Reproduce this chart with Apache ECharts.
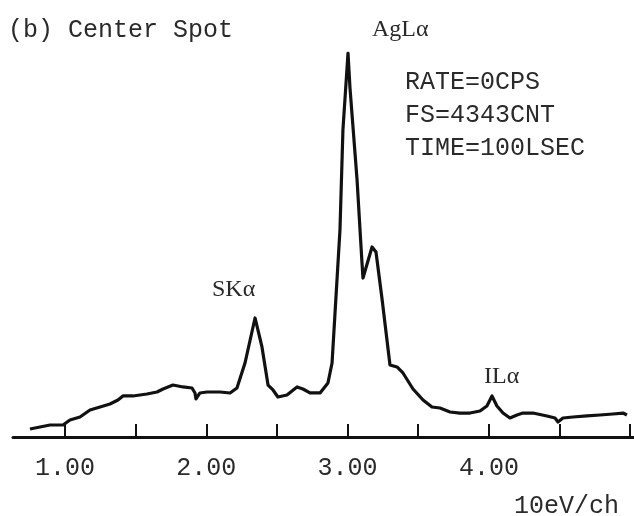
<!DOCTYPE html>
<html>
<head>
<meta charset="utf-8">
<script src="https://cdn.jsdelivr.net/npm/echarts@6/dist/echarts.min.js"></script>
<style>
  html, body { margin: 0; padding: 0; background: #fff; }
  #chart { width: 634px; height: 516px; }
</style>
</head>
<body>
<div id="chart"></div>
<script>
// energy (keV) and counts
const energy = [
    0.752, 0.823, 0.894, 0.986, 1.035, 1.106, 1.177, 1.248, 1.318, 1.375,
    1.410, 1.481, 1.580, 1.651, 1.694, 1.764, 1.835, 1.899, 1.920, 1.927,
    1.955, 2.005, 2.097, 2.168, 2.217, 2.274, 2.345, 2.394, 2.437, 2.472,
    2.507, 2.571, 2.642, 2.684, 2.734, 2.805, 2.861, 2.890, 2.911, 2.925,
    2.946, 2.967, 3.003, 3.017, 3.067, 3.102, 3.109, 3.173, 3.201, 3.243,
    3.300, 3.350, 3.392, 3.463, 3.534, 3.597, 3.654, 3.725, 3.795, 3.866,
    3.937, 3.986, 4.022, 4.057, 4.100, 4.149, 4.199, 4.241, 4.312, 4.411,
    4.468, 4.489, 4.524, 4.595, 4.694, 4.786, 4.878, 4.949, 4.977,
];
const counts = [
    90, 113, 136, 136, 192, 226, 305, 339, 373, 418,
    464, 464, 486, 509, 543, 588, 566, 554, 498, 430,
    498, 509, 509, 498, 554, 837, 1346, 1018, 588, 532,
    452, 475, 566, 543, 498, 498, 611, 837, 1402, 1776,
    2341, 3472, 4343, 3947, 2907, 1968, 1798, 2149, 2092, 1572,
    814, 792, 724, 543, 418, 339, 328, 283, 271, 271,
    294, 351, 464, 351, 271, 215, 249, 271, 271, 238,
    215, 170, 215, 226, 238, 249, 260, 271, 249,
];
const tickValues = [1.0, 1.5, 2.0, 2.5, 3.0, 3.5, 4.0, 4.5, 5.0];
const labelValues = [1, 2, 3, 4];
const fullScale = 4343;

const spectrum = energy.map((e, i) => [e, counts[i]]);

const mono = '"Liberation Mono", "DejaVu Sans Mono", monospace';
const serif = '"Liberation Serif", "DejaVu Serif", serif';
const ink = '#111';
const textInk = '#2a2a2a';

const chart = echarts.init(document.getElementById('chart'));

chart.setOption({
    animation: false,
    backgroundColor: '#fff',
    grid: {
        left: 13, right: 0, top: 53, bottom: 79,
    },
    xAxis: {
        type: 'value',
        min: 0.632,
        max: 5.027,
        splitLine: { show: false },
        axisLine: { lineStyle: { color: ink, width: 3 } },
        axisTick: {
            inside: true,
            length: 13,
            customValues: tickValues,
            lineStyle: { color: ink, width: 2 },
        },
        axisLabel: {
            customValues: labelValues,
            margin: 19,
            color: textInk,
            fontFamily: mono,
            fontSize: 25,
            formatter: (v) => v.toFixed(2),
        },
    },
    yAxis: {
        type: 'value',
        min: 0,
        max: fullScale,
        show: false,
    },
    series: [
        {
            type: 'line',
            data: spectrum,
            showSymbol: false,
            symbol: 'none',
            lineStyle: { color: ink, width: 3.2, join: 'round' },
        },
    ],
    graphic: [
        {
            type: 'text', left: 8, top: 18,
            style: { text: '(b) Center Spot', font: `25px ${mono}`, fill: textInk },
        },
        {
            type: 'text', left: 372, top: 18,
            style: { text: 'AgLα', font: `24px ${serif}`, fill: textInk },
        },
        {
            type: 'text', left: 405, top: 66,
            style: {
                text: 'RATE=0CPS\nFS=4343CNT\nTIME=100LSEC',
                font: `25px ${mono}`,
                lineHeight: 33,
                fill: textInk,
            },
        },
        {
            type: 'text', left: 212, top: 278,
            style: { text: 'SKα', font: `24px ${serif}`, fill: textInk },
        },
        {
            type: 'text', left: 484, top: 365,
            style: { text: 'ILα', font: `24px ${serif}`, fill: textInk },
        },
        {
            type: 'text', left: 514, top: 494,
            style: { text: '10eV/ch', font: `25px ${mono}`, fill: textInk },
        },
    ],
});
</script>
</body>
</html>
